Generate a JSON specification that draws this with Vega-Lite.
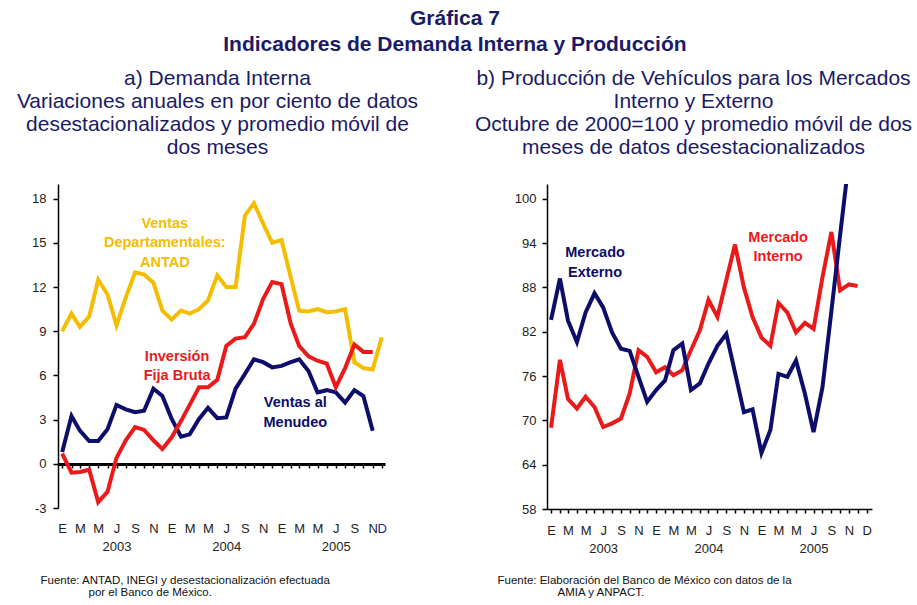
{
  "$schema": "https://vega.github.io/schema/vega-lite/v6.json",
  "autosize": "none",
  "padding": {"left": 58, "top": 184, "right": 859, "bottom": 421},
  "bounds": "flush",
  "spacing": 162,
  "background": "white",
  "title": {"text": ["Gráfica 7", "Indicadores de Demanda Interna y Producción"], "anchor": "start", "align": "center", "dx": 438, "fontSize": 21, "fontWeight": "bold", "font": "Liberation Sans", "color": "#1a1a66", "lineHeight": 26, "offset": 13},
  "config": {"view": {"stroke": null}, "font": "Liberation Sans", "axis": {"labelFont": "Liberation Sans", "titleFont": "Liberation Sans", "grid": false}},
  "resolve": {"scale": {"color": "independent"}},
  "datasets": {
    "demanda": [
      {"fecha": "2003-01", "serie": "Ventas Departamentales: ANTAD", "valor": 9.0},
      {"fecha": "2003-02", "serie": "Ventas Departamentales: ANTAD", "valor": 10.2},
      {"fecha": "2003-03", "serie": "Ventas Departamentales: ANTAD", "valor": 9.3},
      {"fecha": "2003-04", "serie": "Ventas Departamentales: ANTAD", "valor": 10.0},
      {"fecha": "2003-05", "serie": "Ventas Departamentales: ANTAD", "valor": 12.5},
      {"fecha": "2003-06", "serie": "Ventas Departamentales: ANTAD", "valor": 11.5},
      {"fecha": "2003-07", "serie": "Ventas Departamentales: ANTAD", "valor": 9.4},
      {"fecha": "2003-08", "serie": "Ventas Departamentales: ANTAD", "valor": 11.3},
      {"fecha": "2003-09", "serie": "Ventas Departamentales: ANTAD", "valor": 13.0},
      {"fecha": "2003-10", "serie": "Ventas Departamentales: ANTAD", "valor": 12.85},
      {"fecha": "2003-11", "serie": "Ventas Departamentales: ANTAD", "valor": 12.3},
      {"fecha": "2003-12", "serie": "Ventas Departamentales: ANTAD", "valor": 10.4},
      {"fecha": "2004-01", "serie": "Ventas Departamentales: ANTAD", "valor": 9.8},
      {"fecha": "2004-02", "serie": "Ventas Departamentales: ANTAD", "valor": 10.4},
      {"fecha": "2004-03", "serie": "Ventas Departamentales: ANTAD", "valor": 10.2},
      {"fecha": "2004-04", "serie": "Ventas Departamentales: ANTAD", "valor": 10.5},
      {"fecha": "2004-05", "serie": "Ventas Departamentales: ANTAD", "valor": 11.1},
      {"fecha": "2004-06", "serie": "Ventas Departamentales: ANTAD", "valor": 12.8},
      {"fecha": "2004-07", "serie": "Ventas Departamentales: ANTAD", "valor": 12.0},
      {"fecha": "2004-08", "serie": "Ventas Departamentales: ANTAD", "valor": 12.0},
      {"fecha": "2004-09", "serie": "Ventas Departamentales: ANTAD", "valor": 16.85},
      {"fecha": "2004-10", "serie": "Ventas Departamentales: ANTAD", "valor": 17.7},
      {"fecha": "2004-11", "serie": "Ventas Departamentales: ANTAD", "valor": 16.3},
      {"fecha": "2004-12", "serie": "Ventas Departamentales: ANTAD", "valor": 15.0},
      {"fecha": "2005-01", "serie": "Ventas Departamentales: ANTAD", "valor": 15.2},
      {"fecha": "2005-02", "serie": "Ventas Departamentales: ANTAD", "valor": 12.65},
      {"fecha": "2005-03", "serie": "Ventas Departamentales: ANTAD", "valor": 10.4},
      {"fecha": "2005-04", "serie": "Ventas Departamentales: ANTAD", "valor": 10.35},
      {"fecha": "2005-05", "serie": "Ventas Departamentales: ANTAD", "valor": 10.5},
      {"fecha": "2005-06", "serie": "Ventas Departamentales: ANTAD", "valor": 10.3},
      {"fecha": "2005-07", "serie": "Ventas Departamentales: ANTAD", "valor": 10.35},
      {"fecha": "2005-08", "serie": "Ventas Departamentales: ANTAD", "valor": 10.5},
      {"fecha": "2005-09", "serie": "Ventas Departamentales: ANTAD", "valor": 6.9},
      {"fecha": "2005-10", "serie": "Ventas Departamentales: ANTAD", "valor": 6.5},
      {"fecha": "2005-11", "serie": "Ventas Departamentales: ANTAD", "valor": 6.4},
      {"fecha": "2005-12", "serie": "Ventas Departamentales: ANTAD", "valor": 8.6},
      {"fecha": "2003-01", "serie": "Ventas al Menudeo", "valor": 0.8},
      {"fecha": "2003-02", "serie": "Ventas al Menudeo", "valor": 3.25},
      {"fecha": "2003-03", "serie": "Ventas al Menudeo", "valor": 2.25},
      {"fecha": "2003-04", "serie": "Ventas al Menudeo", "valor": 1.55},
      {"fecha": "2003-05", "serie": "Ventas al Menudeo", "valor": 1.55},
      {"fecha": "2003-06", "serie": "Ventas al Menudeo", "valor": 2.35},
      {"fecha": "2003-07", "serie": "Ventas al Menudeo", "valor": 4.0},
      {"fecha": "2003-08", "serie": "Ventas al Menudeo", "valor": 3.7},
      {"fecha": "2003-09", "serie": "Ventas al Menudeo", "valor": 3.5},
      {"fecha": "2003-10", "serie": "Ventas al Menudeo", "valor": 3.6},
      {"fecha": "2003-11", "serie": "Ventas al Menudeo", "valor": 5.1},
      {"fecha": "2003-12", "serie": "Ventas al Menudeo", "valor": 4.6},
      {"fecha": "2004-01", "serie": "Ventas al Menudeo", "valor": 3.05},
      {"fecha": "2004-02", "serie": "Ventas al Menudeo", "valor": 1.85},
      {"fecha": "2004-03", "serie": "Ventas al Menudeo", "valor": 2.0},
      {"fecha": "2004-04", "serie": "Ventas al Menudeo", "valor": 3.05},
      {"fecha": "2004-05", "serie": "Ventas al Menudeo", "valor": 3.8},
      {"fecha": "2004-06", "serie": "Ventas al Menudeo", "valor": 3.1},
      {"fecha": "2004-07", "serie": "Ventas al Menudeo", "valor": 3.15},
      {"fecha": "2004-08", "serie": "Ventas al Menudeo", "valor": 5.1},
      {"fecha": "2004-09", "serie": "Ventas al Menudeo", "valor": 6.1},
      {"fecha": "2004-10", "serie": "Ventas al Menudeo", "valor": 7.1},
      {"fecha": "2004-11", "serie": "Ventas al Menudeo", "valor": 6.9},
      {"fecha": "2004-12", "serie": "Ventas al Menudeo", "valor": 6.55},
      {"fecha": "2005-01", "serie": "Ventas al Menudeo", "valor": 6.65},
      {"fecha": "2005-02", "serie": "Ventas al Menudeo", "valor": 6.9},
      {"fecha": "2005-03", "serie": "Ventas al Menudeo", "valor": 7.1},
      {"fecha": "2005-04", "serie": "Ventas al Menudeo", "valor": 6.3},
      {"fecha": "2005-05", "serie": "Ventas al Menudeo", "valor": 4.85},
      {"fecha": "2005-06", "serie": "Ventas al Menudeo", "valor": 5.0},
      {"fecha": "2005-07", "serie": "Ventas al Menudeo", "valor": 4.85},
      {"fecha": "2005-08", "serie": "Ventas al Menudeo", "valor": 4.15},
      {"fecha": "2005-09", "serie": "Ventas al Menudeo", "valor": 5.0},
      {"fecha": "2005-10", "serie": "Ventas al Menudeo", "valor": 4.6},
      {"fecha": "2005-11", "serie": "Ventas al Menudeo", "valor": 2.25},
      {"fecha": "2003-01", "serie": "Inversión Fija Bruta", "valor": 0.7},
      {"fecha": "2003-02", "serie": "Inversión Fija Bruta", "valor": -0.6},
      {"fecha": "2003-03", "serie": "Inversión Fija Bruta", "valor": -0.55},
      {"fecha": "2003-04", "serie": "Inversión Fija Bruta", "valor": -0.4},
      {"fecha": "2003-05", "serie": "Inversión Fija Bruta", "valor": -2.6},
      {"fecha": "2003-06", "serie": "Inversión Fija Bruta", "valor": -1.9},
      {"fecha": "2003-07", "serie": "Inversión Fija Bruta", "valor": 0.4},
      {"fecha": "2003-08", "serie": "Inversión Fija Bruta", "valor": 1.6},
      {"fecha": "2003-09", "serie": "Inversión Fija Bruta", "valor": 2.5},
      {"fecha": "2003-10", "serie": "Inversión Fija Bruta", "valor": 2.3},
      {"fecha": "2003-11", "serie": "Inversión Fija Bruta", "valor": 1.6},
      {"fecha": "2003-12", "serie": "Inversión Fija Bruta", "valor": 1.0},
      {"fecha": "2004-01", "serie": "Inversión Fija Bruta", "valor": 1.8},
      {"fecha": "2004-02", "serie": "Inversión Fija Bruta", "valor": 2.9},
      {"fecha": "2004-03", "serie": "Inversión Fija Bruta", "valor": 4.0},
      {"fecha": "2004-04", "serie": "Inversión Fija Bruta", "valor": 5.2},
      {"fecha": "2004-05", "serie": "Inversión Fija Bruta", "valor": 5.2},
      {"fecha": "2004-06", "serie": "Inversión Fija Bruta", "valor": 5.7},
      {"fecha": "2004-07", "serie": "Inversión Fija Bruta", "valor": 8.0},
      {"fecha": "2004-08", "serie": "Inversión Fija Bruta", "valor": 8.5},
      {"fecha": "2004-09", "serie": "Inversión Fija Bruta", "valor": 8.6},
      {"fecha": "2004-10", "serie": "Inversión Fija Bruta", "valor": 9.5},
      {"fecha": "2004-11", "serie": "Inversión Fija Bruta", "valor": 11.2},
      {"fecha": "2004-12", "serie": "Inversión Fija Bruta", "valor": 12.35},
      {"fecha": "2005-01", "serie": "Inversión Fija Bruta", "valor": 12.2},
      {"fecha": "2005-02", "serie": "Inversión Fija Bruta", "valor": 9.5},
      {"fecha": "2005-03", "serie": "Inversión Fija Bruta", "valor": 8.0},
      {"fecha": "2005-04", "serie": "Inversión Fija Bruta", "valor": 7.3},
      {"fecha": "2005-05", "serie": "Inversión Fija Bruta", "valor": 7.0},
      {"fecha": "2005-06", "serie": "Inversión Fija Bruta", "valor": 6.8},
      {"fecha": "2005-07", "serie": "Inversión Fija Bruta", "valor": 5.2},
      {"fecha": "2005-08", "serie": "Inversión Fija Bruta", "valor": 6.5},
      {"fecha": "2005-09", "serie": "Inversión Fija Bruta", "valor": 8.1},
      {"fecha": "2005-10", "serie": "Inversión Fija Bruta", "valor": 7.6},
      {"fecha": "2005-11", "serie": "Inversión Fija Bruta", "valor": 7.6}
    ],
    "etiquetas_demanda": [
      {"fecha": "2003-12-09", "valor": 16.3, "serie": "Ventas Departamentales: ANTAD", "texto": "Ventas\nDepartamentales:\nANTAD"},
      {"fecha": "2004-01-19", "valor": 7.27, "serie": "Inversión Fija Bruta", "texto": "Inversión\nFija Bruta"},
      {"fecha": "2005-02-16", "valor": 4.1, "serie": "Ventas al Menudeo", "texto": "Ventas al\nMenudeo"}
    ],
    "vehiculos": [
      {"fecha": "2003-01", "serie": "Mercado Interno", "valor": 69.0},
      {"fecha": "2003-02", "serie": "Mercado Interno", "valor": 78.2},
      {"fecha": "2003-03", "serie": "Mercado Interno", "valor": 72.9},
      {"fecha": "2003-04", "serie": "Mercado Interno", "valor": 71.6},
      {"fecha": "2003-05", "serie": "Mercado Interno", "valor": 73.2},
      {"fecha": "2003-06", "serie": "Mercado Interno", "valor": 71.8},
      {"fecha": "2003-07", "serie": "Mercado Interno", "valor": 69.1},
      {"fecha": "2003-08", "serie": "Mercado Interno", "valor": 69.6},
      {"fecha": "2003-09", "serie": "Mercado Interno", "valor": 70.25},
      {"fecha": "2003-10", "serie": "Mercado Interno", "valor": 73.6},
      {"fecha": "2003-11", "serie": "Mercado Interno", "valor": 79.5},
      {"fecha": "2003-12", "serie": "Mercado Interno", "valor": 78.6},
      {"fecha": "2004-01", "serie": "Mercado Interno", "valor": 76.5},
      {"fecha": "2004-02", "serie": "Mercado Interno", "valor": 77.2},
      {"fecha": "2004-03", "serie": "Mercado Interno", "valor": 76.1},
      {"fecha": "2004-04", "serie": "Mercado Interno", "valor": 76.8},
      {"fecha": "2004-05", "serie": "Mercado Interno", "valor": 79.5},
      {"fecha": "2004-06", "serie": "Mercado Interno", "valor": 82.2},
      {"fecha": "2004-07", "serie": "Mercado Interno", "valor": 86.3},
      {"fecha": "2004-08", "serie": "Mercado Interno", "valor": 84.0},
      {"fecha": "2004-09", "serie": "Mercado Interno", "valor": 89.0},
      {"fecha": "2004-10", "serie": "Mercado Interno", "valor": 93.8},
      {"fecha": "2004-11", "serie": "Mercado Interno", "valor": 88.0},
      {"fecha": "2004-12", "serie": "Mercado Interno", "valor": 84.0},
      {"fecha": "2005-01", "serie": "Mercado Interno", "valor": 81.2},
      {"fecha": "2005-02", "serie": "Mercado Interno", "valor": 80.1},
      {"fecha": "2005-03", "serie": "Mercado Interno", "valor": 85.9},
      {"fecha": "2005-04", "serie": "Mercado Interno", "valor": 84.6},
      {"fecha": "2005-05", "serie": "Mercado Interno", "valor": 81.9},
      {"fecha": "2005-06", "serie": "Mercado Interno", "valor": 83.2},
      {"fecha": "2005-07", "serie": "Mercado Interno", "valor": 82.4},
      {"fecha": "2005-08", "serie": "Mercado Interno", "valor": 89.4},
      {"fecha": "2005-09", "serie": "Mercado Interno", "valor": 95.5},
      {"fecha": "2005-10", "serie": "Mercado Interno", "valor": 87.6},
      {"fecha": "2005-11", "serie": "Mercado Interno", "valor": 88.4},
      {"fecha": "2005-12", "serie": "Mercado Interno", "valor": 88.2},
      {"fecha": "2003-01", "serie": "Mercado Externo", "valor": 83.6},
      {"fecha": "2003-02", "serie": "Mercado Externo", "valor": 89.2},
      {"fecha": "2003-03", "serie": "Mercado Externo", "valor": 83.5},
      {"fecha": "2003-04", "serie": "Mercado Externo", "valor": 80.6},
      {"fecha": "2003-05", "serie": "Mercado Externo", "valor": 84.6},
      {"fecha": "2003-06", "serie": "Mercado Externo", "valor": 87.2},
      {"fecha": "2003-07", "serie": "Mercado Externo", "valor": 85.3},
      {"fecha": "2003-08", "serie": "Mercado Externo", "valor": 81.9},
      {"fecha": "2003-09", "serie": "Mercado Externo", "valor": 79.7},
      {"fecha": "2003-10", "serie": "Mercado Externo", "valor": 79.4},
      {"fecha": "2003-11", "serie": "Mercado Externo", "valor": 75.9},
      {"fecha": "2003-12", "serie": "Mercado Externo", "valor": 72.5},
      {"fecha": "2004-01", "serie": "Mercado Externo", "valor": 74.1},
      {"fecha": "2004-02", "serie": "Mercado Externo", "valor": 75.4},
      {"fecha": "2004-03", "serie": "Mercado Externo", "valor": 79.5},
      {"fecha": "2004-04", "serie": "Mercado Externo", "valor": 80.4},
      {"fecha": "2004-05", "serie": "Mercado Externo", "valor": 74.1},
      {"fecha": "2004-06", "serie": "Mercado Externo", "valor": 75.0},
      {"fecha": "2004-07", "serie": "Mercado Externo", "valor": 77.7},
      {"fecha": "2004-08", "serie": "Mercado Externo", "valor": 80.1},
      {"fecha": "2004-09", "serie": "Mercado Externo", "valor": 81.7},
      {"fecha": "2004-10", "serie": "Mercado Externo", "valor": 76.5},
      {"fecha": "2004-11", "serie": "Mercado Externo", "valor": 71.1},
      {"fecha": "2004-12", "serie": "Mercado Externo", "valor": 71.5},
      {"fecha": "2005-01", "serie": "Mercado Externo", "valor": 65.6},
      {"fecha": "2005-02", "serie": "Mercado Externo", "valor": 68.7},
      {"fecha": "2005-03", "serie": "Mercado Externo", "valor": 76.3},
      {"fecha": "2005-04", "serie": "Mercado Externo", "valor": 75.9},
      {"fecha": "2005-05", "serie": "Mercado Externo", "valor": 78.1},
      {"fecha": "2005-06", "serie": "Mercado Externo", "valor": 73.6},
      {"fecha": "2005-07", "serie": "Mercado Externo", "valor": 68.4},
      {"fecha": "2005-08", "serie": "Mercado Externo", "valor": 74.5},
      {"fecha": "2005-09", "serie": "Mercado Externo", "valor": 84.8},
      {"fecha": "2005-10", "serie": "Mercado Externo", "valor": 95.0},
      {"fecha": "2005-11", "serie": "Mercado Externo", "valor": 105.3}
    ],
    "etiquetas_vehiculos": [
      {"fecha": "2003-06-03", "valor": 92.6, "serie": "Mercado Externo", "texto": "Mercado\nExterno"},
      {"fecha": "2005-02-28", "valor": 94.7, "serie": "Mercado Interno", "texto": "Mercado\nInterno"}
    ]
  },
  "hconcat": [
    {
      "width": 327,
      "height": 324,
      "title": {"text": ["a) Demanda Interna", "Variaciones anuales en por ciento de datos", "desestacionalizados y promedio móvil de", "dos meses"], "anchor": "middle", "dx": -4, "fontSize": 21, "fontWeight": "normal", "font": "Liberation Sans", "color": "#1a1a66", "lineHeight": 23, "offset": 26},
      "resolve": {"axis": {"x": "independent"}},
      "layer": [
        {
          "data": {"name": "demanda"},
          "mark": {"type": "line", "strokeWidth": 4},
          "encoding": {
            "x": {"field": "fecha", "type": "temporal",
              "scale": {"type": "utc", "domain": [{"year": 2002, "month": 12, "date": 18, "utc": true}, {"year": 2005, "month": 12, "date": 12, "utc": true}]},
              "axis": {"orient": "bottom", "offset": -44, "domain": true, "domainColor": "#000000", "domainWidth": 3, "ticks": true, "tickColor": "#000000", "tickSize": 4, "tickWidth": 1.5, "tickCount": {"interval": "month", "step": 1}, "labels": false, "grid": false,
                "title": "por el Banco de México.", "titleX": 30, "titleY": 122, "titleAlign": "left", "titleBaseline": "top", "titleFontSize": 11.5, "titleFontWeight": "normal", "titleColor": "#111111"}},
            "y": {"field": "valor", "type": "quantitative",
              "scale": {"domain": [-3, 19], "nice": false, "zero": false},
              "axis": {"values": [-3, 0, 3, 6, 9, 12, 15, 18], "labelExpr": "datum.value < 0 ? '-' + abs(datum.value) : '' + datum.value", "domain": true, "domainColor": "#000000", "domainWidth": 1.5, "ticks": true, "tickColor": "#000000", "tickSize": 5, "tickWidth": 1.5, "labelPadding": 7, "labelFontSize": 13, "labelColor": "#222222", "title": null, "grid": false}},
            "color": {"field": "serie", "type": "nominal", "legend": null,
              "scale": {"domain": ["Ventas Departamentales: ANTAD", "Ventas al Menudeo", "Inversión Fija Bruta"], "range": ["#f4bd00", "#0d0d6b", "#ea1a1a"]}}
          }
        },
        {
          "data": {"name": "etiquetas_demanda"},
          "mark": {"type": "text", "fontWeight": "bold", "fontSize": 14.5, "lineBreak": "\n", "lineHeight": 19.5, "align": "center", "baseline": "middle", "font": "Liberation Sans"},
          "encoding": {
            "x": {"field": "fecha", "type": "temporal",
              "scale": {"type": "utc", "domain": [{"year": 2002, "month": 12, "date": 18, "utc": true}, {"year": 2005, "month": 12, "date": 12, "utc": true}]},
              "axis": {"orient": "bottom", "domain": false, "ticks": false, "tickSize": 0, "labelPadding": 14, "grid": false,
                "values": [
                  {"year": 2003, "month": 1, "date": 1, "utc": true}, {"year": 2003, "month": 3, "date": 1, "utc": true}, {"year": 2003, "month": 5, "date": 1, "utc": true}, {"year": 2003, "month": 7, "date": 1, "utc": true}, {"year": 2003, "month": 9, "date": 1, "utc": true}, {"year": 2003, "month": 11, "date": 1, "utc": true},
                  {"year": 2004, "month": 1, "date": 1, "utc": true}, {"year": 2004, "month": 3, "date": 1, "utc": true}, {"year": 2004, "month": 5, "date": 1, "utc": true}, {"year": 2004, "month": 7, "date": 1, "utc": true}, {"year": 2004, "month": 9, "date": 1, "utc": true}, {"year": 2004, "month": 11, "date": 1, "utc": true},
                  {"year": 2005, "month": 1, "date": 1, "utc": true}, {"year": 2005, "month": 3, "date": 1, "utc": true}, {"year": 2005, "month": 5, "date": 1, "utc": true}, {"year": 2005, "month": 7, "date": 1, "utc": true}, {"year": 2005, "month": 9, "date": 1, "utc": true}, {"year": 2005, "month": 11, "date": 1, "utc": true},
                  {"year": 2005, "month": 12, "date": 1, "utc": true}
                ],
                "labelExpr": "utcmonth(datum.value) == 6 ? ['J', '' + utcyear(datum.value)] : ['E','F','M','A','M','J','J','A','S','O','N','D'][utcmonth(datum.value)]",
                "labelFontSize": 13, "labelLineHeight": 18, "labelBaseline": "top", "labelAlign": "center", "labelFlush": false, "labelOverlap": false, "labelBound": false,
                "labelColor": {"condition": {"test": "utcmonth(datum.value) == 11", "value": "#2626a0"}, "value": "#222222"},
                "title": "Fuente: ANTAD, INEGI y desestacionalización efectuada", "titleX": -18, "titleY": 66, "titleAlign": "left", "titleBaseline": "top", "titleFontSize": 11.5, "titleFontWeight": "normal", "titleColor": "#111111"}},
            "y": {"field": "valor", "type": "quantitative", "scale": {"domain": [-3, 19], "nice": false, "zero": false}, "axis": {"title": null}},
            "text": {"field": "texto", "type": "nominal"},
            "color": {"field": "serie", "type": "nominal", "legend": null,
              "scale": {"domain": ["Ventas Departamentales: ANTAD", "Ventas al Menudeo", "Inversión Fija Bruta"], "range": ["#f4bd00", "#0d0d6b", "#ea1a1a"]}}
          }
        }
      ]
    },
    {
      "width": 325,
      "height": 325,
      "title": {"text": ["b) Producción de Vehículos para los Mercados", "Interno y Externo", "Octubre de 2000=100 y promedio móvil de dos", "meses de datos desestacionalizados"], "anchor": "middle", "dx": -16, "fontSize": 21, "fontWeight": "normal", "font": "Liberation Sans", "color": "#1a1a66", "lineHeight": 23, "offset": 26},
      "resolve": {"axis": {"x": "independent"}},
      "layer": [
        {
          "data": {"name": "vehiculos"},
          "mark": {"type": "line", "strokeWidth": 4, "clip": true},
          "encoding": {
            "x": {"field": "fecha", "type": "temporal",
              "scale": {"type": "utc", "domain": [{"year": 2002, "month": 12, "date": 18, "utc": true}, {"year": 2006, "month": 1, "date": 20, "utc": true}]},
              "axis": {"orient": "bottom", "domain": true, "domainColor": "#000000", "domainWidth": 1.5, "ticks": true, "tickColor": "#000000", "tickSize": 4, "tickWidth": 1.5, "tickCount": {"interval": "month", "step": 1}, "labels": false, "grid": false,
                "title": "AMIA y ANPACT.", "titleX": 10, "titleY": 77, "titleAlign": "left", "titleBaseline": "top", "titleFontSize": 11.5, "titleFontWeight": "normal", "titleColor": "#111111"}},
            "y": {"field": "valor", "type": "quantitative",
              "scale": {"domain": [58, 102], "nice": false, "zero": false},
              "axis": {"values": [58, 64, 70, 76, 82, 88, 94, 100], "domain": true, "domainColor": "#000000", "domainWidth": 1.5, "ticks": true, "tickColor": "#000000", "tickSize": 5, "tickWidth": 1.5, "labelPadding": 6, "labelFontSize": 13, "labelColor": "#222222", "title": null, "grid": false}},
            "color": {"field": "serie", "type": "nominal", "legend": null,
              "scale": {"domain": ["Mercado Interno", "Mercado Externo"], "range": ["#ea1a1a", "#0d0d6b"]}}
          }
        },
        {
          "data": {"name": "etiquetas_vehiculos"},
          "mark": {"type": "text", "fontWeight": "bold", "fontSize": 14.5, "lineBreak": "\n", "lineHeight": 19.5, "align": "center", "baseline": "middle", "font": "Liberation Sans"},
          "encoding": {
            "x": {"field": "fecha", "type": "temporal",
              "scale": {"type": "utc", "domain": [{"year": 2002, "month": 12, "date": 18, "utc": true}, {"year": 2006, "month": 1, "date": 20, "utc": true}]},
              "axis": {"orient": "bottom", "domain": false, "ticks": false, "tickSize": 0, "labelPadding": 15, "grid": false,
                "values": [
                  {"year": 2003, "month": 1, "date": 1, "utc": true}, {"year": 2003, "month": 3, "date": 1, "utc": true}, {"year": 2003, "month": 5, "date": 1, "utc": true}, {"year": 2003, "month": 7, "date": 1, "utc": true}, {"year": 2003, "month": 9, "date": 1, "utc": true}, {"year": 2003, "month": 11, "date": 1, "utc": true},
                  {"year": 2004, "month": 1, "date": 1, "utc": true}, {"year": 2004, "month": 3, "date": 1, "utc": true}, {"year": 2004, "month": 5, "date": 1, "utc": true}, {"year": 2004, "month": 7, "date": 1, "utc": true}, {"year": 2004, "month": 9, "date": 1, "utc": true}, {"year": 2004, "month": 11, "date": 1, "utc": true},
                  {"year": 2005, "month": 1, "date": 1, "utc": true}, {"year": 2005, "month": 3, "date": 1, "utc": true}, {"year": 2005, "month": 5, "date": 1, "utc": true}, {"year": 2005, "month": 7, "date": 1, "utc": true}, {"year": 2005, "month": 9, "date": 1, "utc": true}, {"year": 2005, "month": 11, "date": 1, "utc": true},
                  {"year": 2005, "month": 12, "date": 1, "utc": true}
                ],
                "labelExpr": "utcmonth(datum.value) == 6 ? ['J', '' + utcyear(datum.value)] : ['E','F','M','A','M','J','J','A','S','O','N','D'][utcmonth(datum.value)]",
                "labelFontSize": 13, "labelLineHeight": 18, "labelBaseline": "top", "labelAlign": "center", "labelFlush": false, "labelOverlap": false, "labelBound": false, "labelColor": "#222222",
                "labelOffset": {"condition": {"test": "utcmonth(datum.value) == 11", "value": 9}, "value": 0},
                "title": "Fuente: Elaboración del Banco de México con datos de la", "titleX": -50, "titleY": 65, "titleAlign": "left", "titleBaseline": "top", "titleFontSize": 11.5, "titleFontWeight": "normal", "titleColor": "#111111"}},
            "y": {"field": "valor", "type": "quantitative", "scale": {"domain": [58, 102], "nice": false, "zero": false}, "axis": {"title": null}},
            "text": {"field": "texto", "type": "nominal"},
            "color": {"field": "serie", "type": "nominal", "legend": null,
              "scale": {"domain": ["Mercado Interno", "Mercado Externo"], "range": ["#ea1a1a", "#0d0d6b"]}}
          }
        }
      ]
    }
  ]
}
